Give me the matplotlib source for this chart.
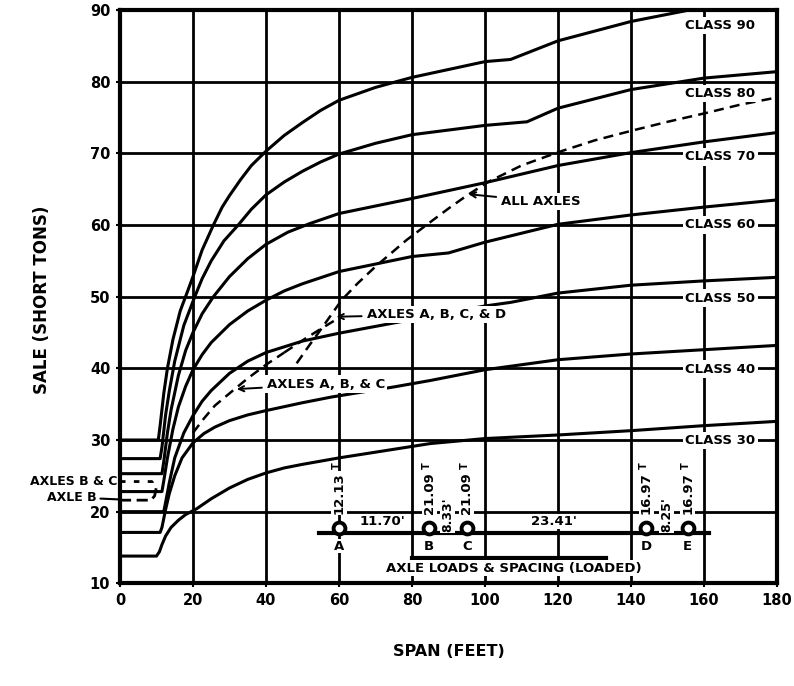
import numpy as np
import matplotlib.pyplot as plt

# class curves: span (ft) vs safe load (short tons)
class30_x = [0, 10, 10.8, 11.5, 12.5, 14, 16, 18, 21, 25, 30, 35, 40, 45, 50, 60, 70, 85, 100, 120, 140, 160, 180]
class30_y = [13.8, 13.8, 14.4, 15.4, 16.6, 17.8, 18.8, 19.6, 20.4, 21.8, 23.3, 24.5, 25.4, 26.1, 26.6, 27.5, 28.3, 29.5, 30.2, 30.7, 31.3, 32.0, 32.6]

class40_x = [0, 11, 11.5, 12.5, 13.5, 15, 17, 20, 23, 26, 30, 35, 40, 50, 58, 75, 85, 100, 120, 140, 160, 180]
class40_y = [17.1, 17.1, 17.8, 20.3, 22.5, 25, 27.5, 29.6, 30.9, 31.8, 32.7, 33.5, 34.1, 35.2, 36.0, 37.4, 38.3, 39.8, 41.2, 42.0, 42.6, 43.2]

class50_x = [0, 12, 12.5, 13.5, 15, 17.5, 20, 22.5, 25, 30, 35, 40, 50, 60, 80, 100, 107, 120, 140, 160, 180]
class50_y = [20, 20, 21.3, 24, 27.5, 31, 33.4, 35.4, 36.9, 39.3, 41, 42.2, 43.8, 44.9, 46.8, 48.7, 49.2, 50.5, 51.6, 52.2, 52.7]

class60_x = [0, 11.5, 12, 13, 14.5, 16, 18, 20, 22.5, 25, 30, 35, 40, 45, 50, 60, 80, 90, 100, 120, 140, 160, 180]
class60_y = [22.8, 22.8, 24.3, 27.5, 31.5, 34.6, 37.5, 39.8, 41.9, 43.6, 46.1, 48, 49.5, 50.8, 51.8, 53.5, 55.6, 56.1, 57.6, 60.1, 61.4, 62.5, 63.5]

class70_x = [0, 11.5, 12, 13, 14, 16, 18, 20, 22.5, 25.6, 30, 35, 40, 46, 52, 60, 80, 100, 120, 140, 160, 180]
class70_y = [25.3, 25.3, 27, 31, 34.2, 39, 42.5, 45, 47.6, 50, 52.8, 55.3, 57.3, 59, 60.2, 61.6, 63.7, 65.9, 68.3, 70.1, 71.6, 72.9]

class80_x = [0, 11, 11.5, 12.5, 13.5, 15, 17.5, 20.5, 22.5, 25, 28.5, 32.4, 36, 40, 45, 50, 55, 60, 70, 80, 100, 111.5, 120, 140, 160, 180]
class80_y = [27.4, 27.4, 29, 33.5, 36.8, 41, 46, 50, 52.5, 55, 57.8, 60, 62.2, 64.2, 66, 67.5, 68.8, 69.9, 71.4, 72.6, 73.9, 74.4, 76.3, 78.9, 80.5, 81.4]

class90_x = [0, 10.5, 11, 12, 13, 14.5, 16.5, 18.7, 20, 22.5, 25.6, 28, 30, 33, 36, 40, 45, 50, 55, 60, 70, 80, 100, 107, 120, 140, 156, 165]
class90_y = [30, 30, 32, 36.5, 40, 44, 48, 51, 52.8, 56.5, 60, 62.5, 64.1, 66.3, 68.3, 70.3, 72.5, 74.3, 76, 77.4, 79.2, 80.6, 82.8, 83.1, 85.7, 88.4, 90, 91]

# dashed curves
all_axles_x = [48.4, 52, 55, 60.7, 65, 70, 78.5, 85, 90, 95, 100.8, 110, 120.3, 130, 140.5, 150, 160.3, 170, 180]
all_axles_y = [40.7, 43.3, 45.4, 49.5, 51.8, 54.2, 57.9, 60.4, 62.3, 64.1, 66, 68.3, 70.2, 71.8, 73.2, 74.4, 75.6, 76.8, 77.8]
abc_x = [20, 23, 26, 30, 35, 40, 45]
abc_y = [31, 33, 34.8, 36.5, 38.6, 40.5, 42.2]
abcd_x = [45, 50, 55, 60.5]
abcd_y = [42.2, 43.9, 45.5, 47.2]
bc_x = [0, 9, 10.5]
bc_y = [24.2, 24.2, 25]
b_x = [0, 8.5, 9.5, 10]
b_y = [21.6, 21.6, 22.2, 23.5]

class_labels = ['CLASS 30', 'CLASS 40', 'CLASS 50', 'CLASS 60', 'CLASS 70', 'CLASS 80', 'CLASS 90']
class_label_y = [29.9, 39.9, 49.8, 60, 69.5, 78.3, 87.8]

# axle diagram
axle_names = ['A', 'B', 'C', 'D', 'E']
axle_pos = [60, 84.7, 95, 144.2, 155.5]
axle_loads = ['12.13', '21.09', '21.09', '16.97', '16.97']
spacing_labels = ["11.70'", "8.33'", "23.41'", "8.25'"]
spacing_pos = [72, 89.8, 119, 149.8]
spacing_rot = [0, 90, 0, 90]

plt.rcParams['font.family'] = 'DejaVu Sans'
plt.rcParams['font.weight'] = 'bold'

fig = plt.figure(figsize=(7.94, 6.86), dpi=100)
ax = fig.add_axes([0.1511, 0.1497, 0.8275, 0.8357])

lw = 2.2
for xs, ys in [(class30_x, class30_y), (class40_x, class40_y), (class50_x, class50_y),
               (class60_x, class60_y), (class70_x, class70_y), (class80_x, class80_y),
               (class90_x, class90_y)]:
    ax.plot(xs, ys, color='black', lw=lw, zorder=3, solid_joinstyle='round')

for xs, ys in [(all_axles_x, all_axles_y), (abc_x, abc_y), (abcd_x, abcd_y)]:
    ax.plot(xs, ys, color='black', lw=1.8, dashes=(4, 2.5), zorder=3)
ax.plot(bc_x, bc_y, color='black', lw=2, dashes=(2, 3), zorder=3)
ax.plot(b_x, b_y, color='black', lw=2, dashes=(4, 2), zorder=3)

ax.set_xlim(0, 180)
ax.set_ylim(10, 90)
ax.set_xticks(np.arange(0, 181, 20))
ax.set_yticks(np.arange(10, 91, 10))
ax.grid(True, color='black', lw=2)
ax.set_axisbelow(True)
for s in ax.spines.values():
    s.set_linewidth(3)
ax.tick_params(length=3, width=1.5, labelsize=10.5, pad=4)
for t in ax.get_xticklabels() + ax.get_yticklabels():
    t.set_fontweight('bold')

tb = dict(fc='white', ec='none', pad=1.5)
for lab, y in zip(class_labels, class_label_y):
    ax.text(164.5, y, lab, ha='center', va='center', fontsize=9.5, fontweight='bold', bbox=tb, zorder=6)

arrow = dict(arrowstyle='->', lw=1.4, color='black', shrinkA=2, shrinkB=0)
ax.annotate('ALL AXLES', xy=(95.5, 64.3), xytext=(115.3, 63.3), ha='center', va='center',
            fontsize=9.5, fontweight='bold', bbox=tb, arrowprops=arrow, zorder=6)
ax.annotate('AXLES A, B, C, & D', xy=(59.3, 47.2), xytext=(86.6, 47.5), ha='center', va='center',
            fontsize=9.5, fontweight='bold', bbox=tb, arrowprops=arrow, zorder=6)
ax.annotate('AXLES A, B, & C', xy=(32, 37.1), xytext=(56.4, 37.8), ha='center', va='center',
            fontsize=9.5, fontweight='bold', bbox=tb, arrowprops=arrow, zorder=6)

ax.text(-0.8, 24.2, 'AXLES B & C', ha='right', va='center', fontsize=9, fontweight='bold', clip_on=False)
ax.annotate('AXLE B', xy=(0, 21.7), xytext=(-6.5, 22.0), ha='right', va='center', fontsize=9,
            fontweight='bold', annotation_clip=False,
            arrowprops=dict(arrowstyle='-', lw=1.5, color='black', shrinkA=1, shrinkB=0))

# axle loads & spacing diagram
ax.plot([54.5, 161.5], [17, 17], color='black', lw=3, zorder=4)
ax.plot([80, 133.2], [13.5, 13.5], color='black', lw=3, zorder=4)
ax.plot(axle_pos, [17.7] * len(axle_pos), 'o', ms=8.5, mfc='white', mec='black', mew=2.8, zorder=5)
for name, x, load in zip(axle_names, axle_pos, axle_loads):
    ax.text(x, 15.2, name, ha='center', va='center', fontsize=9.5, fontweight='bold',
            bbox=dict(fc='white', ec='none', pad=0.5), zorder=6)
    ax.text(x, 22.6, load, ha='center', va='center', rotation=90, fontsize=9.5,
            fontweight='bold', bbox=dict(fc='white', ec='none', pad=0.8), zorder=6)
    ax.text(x - 0.6, 26.4, 'T', ha='center', va='center', rotation=90, fontsize=7,
            fontweight='bold', zorder=6)
for lab, x, rot in zip(spacing_labels, spacing_pos, spacing_rot):
    ax.text(x, 18.6 if rot == 0 else 19.6, lab, ha='center', va='center', rotation=rot,
            fontsize=9 if rot else 9.5, fontweight='bold',
            bbox=dict(fc='white', ec='none', pad=0.8), zorder=6)
ax.text(108, 12.1, 'AXLE LOADS & SPACING (LOADED)', ha='center', va='center', fontsize=9.5,
        fontweight='bold', bbox=dict(fc='white', ec='none', pad=1), zorder=6)

fig.text(42 / 794, 1 - 300 / 686, 'SALE (SHORT TONS)', rotation=90, ha='center', va='center',
         fontsize=12, fontweight='bold')
fig.text(449 / 794, 1 - 651 / 686, 'SPAN (FEET)', ha='center', va='center',
         fontsize=11.5, fontweight='bold')

fig.savefig('out.png', dpi=100)
